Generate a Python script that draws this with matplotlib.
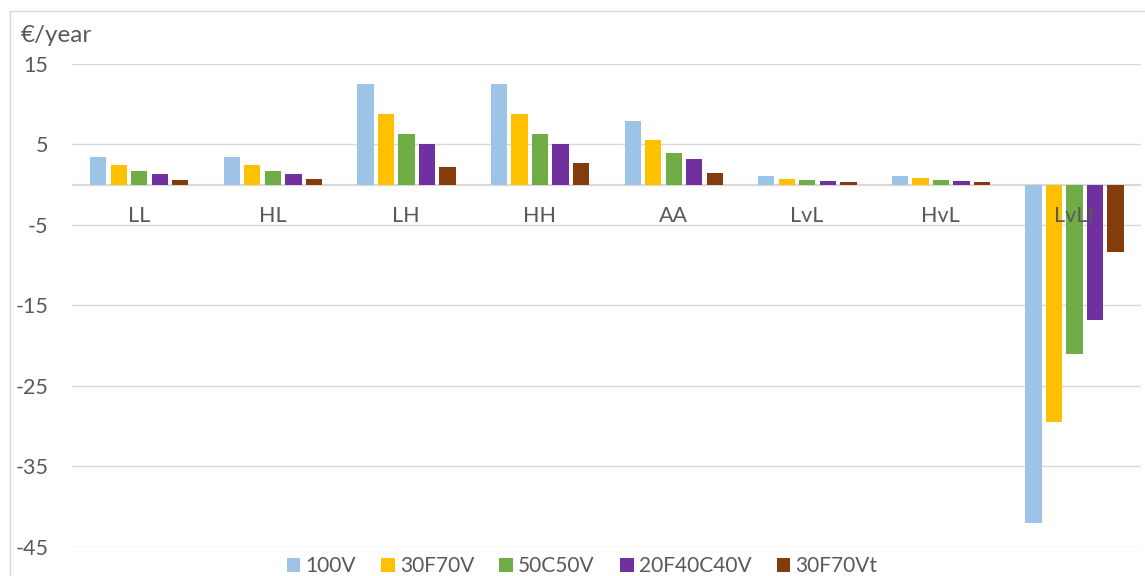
import matplotlib
matplotlib.use("Agg")
import matplotlib.pyplot as plt
import numpy as np
from matplotlib.patches import Rectangle

categories = ["LL", "HL", "LH", "HH", "AA", "LvL", "HvL", "LvLf"]
series_names = ["100V", "30F70V", "50C50V", "20F40C40V", "30F70Vt"]
v_100V = [3.4, 3.4, 12.5, 12.5, 7.95, 1.12, 1.12, -42.0]
v_30F70V = [2.4, 2.4, 8.8, 8.8, 5.55, 0.75, 0.8, -29.5]
v_50C50V = [1.7, 1.7, 6.26, 6.26, 3.98, 0.55, 0.55, -21.0]
v_20F40C40V = [1.37, 1.37, 5.0, 5.0, 3.2, 0.46, 0.46, -16.8]
v_30F70Vt = [0.6, 0.75, 2.24, 2.7, 1.42, 0.34, 0.34, -8.4]
y_ticks = [15, 5, -5, -15, -25, -35, -45]
y_label = "€/year"

series = [v_100V, v_30F70V, v_50C50V, v_20F40C40V, v_30F70Vt]
colors = ["#9DC3E6", "#FFC000", "#70AD47", "#7030A0", "#843C0C"]

plt.rcParams['font.family'] = ['Lato', 'DejaVu Sans']
plt.rcParams['axes.unicode_minus'] = False
text_color = "#595959"
grid_color = "#D9D9D9"

W, H = 1145, 576
fig = plt.figure(figsize=(W / 100, H / 100), dpi=100)

# chart border
fig.patches.append(Rectangle((10 / W, -0.1), 2.0, 1 - 11 / H + 0.1, transform=fig.transFigure,
                             fill=False, edgecolor=grid_color, linewidth=1.0))

left, right = 72 / W, 1141 / W
bottom, top = 1 - 546.7 / H, 1 - 64 / H
ax = fig.add_axes([left, bottom, right - left, top - bottom])

x = np.arange(len(categories))
pitch = 0.1535
width = 0.122
for j, (name, vals, c) in enumerate(zip(series_names, series, colors)):
    ax.bar(x + (j - 2) * pitch + 0.003, vals, width=width, color=c, label=name, zorder=3)

ax.set_xlim(-0.5, len(categories) - 0.5)
ax.set_ylim(-45, 15)
ax.set_yticks(y_ticks)
ax.set_xticks([])
ax.tick_params(axis='y', length=0, pad=17, labelsize=15.5, labelcolor=text_color)
for s in ax.spines.values():
    s.set_visible(False)
for t in y_ticks:
    ax.axhline(t, color=grid_color, linewidth=1.0, zorder=1)
ax.axhline(0, color=grid_color, linewidth=1.6, zorder=2)

for i, cat in enumerate(categories):
    ax.annotate(cat, (i, 0), xytext=(0, -22.5), textcoords='offset points',
                ha='center', va='center', fontsize=15.5, color=text_color, zorder=5)

fig.text(21 / W, 1 - 35 / H, y_label, ha='left', va='center', fontsize=17.5, color=text_color)

handles, labels = ax.get_legend_handles_labels()
fig.legend(handles, labels, loc='center', bbox_to_anchor=(582 / W, 1 - 566.5 / H), ncol=5,
           frameon=False, fontsize=15, labelcolor=text_color, handlelength=0.67,
           handleheight=0.67, handletextpad=0.24, columnspacing=1.2, borderaxespad=0,
           borderpad=0)

fig.savefig("out.png", dpi=100)
